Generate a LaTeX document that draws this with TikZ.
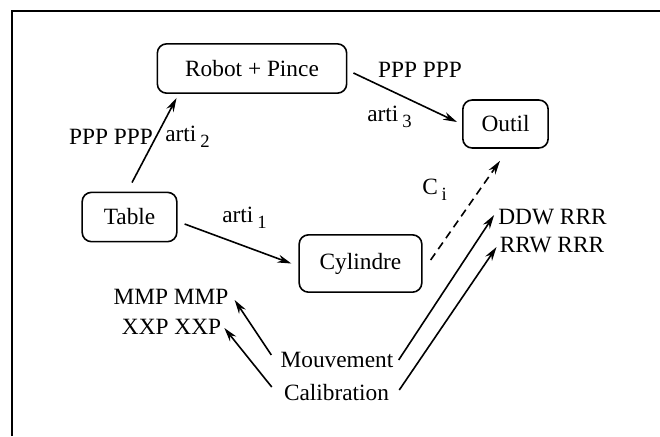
\documentclass[tikz,border=0pt]{standalone}
\usepackage{fontspec}
\setmainfont{Liberation Serif}
\usetikzlibrary{arrows.meta}
\newcommand{\subidx}[2]{#1\,\raisebox{-0.6ex}{\fontsize{14}{14}\selectfont #2}}

\begin{document}
\begin{tikzpicture}[x=0.75pt,y=-0.75pt,>={Stealth[length=10.5pt,width=6pt]},
    font=\fontsize{17.5}{20}\selectfont,
    box/.style={draw,line width=1.2pt,rounded corners=7pt,minimum height=37pt,inner sep=2pt},
    txt/.style={inner sep=0pt},
    arr/.style={->,line width=1.2pt}]
    \useasboundingbox (0,0) rectangle (660,436);
    % frame (top and left only)
    \draw[line width=1.5pt] (12,436) -- (12,11) -- (660,11);
    % boxes
    \node[box,minimum width=142pt] (robot) at (252,68.5) {Robot + Pince};
    \node[box,minimum width=71pt] (table) at (129.5,217) {Table};
    \node[box,minimum width=92pt,minimum height=43pt] (cyl) at (360.5,263.5) {Cylindre};
    \node[box,minimum width=64pt,minimum height=36pt] (outil) at (505.5,124) {Outil};
    % free labels
    \node[txt] (mmp) at (171,297) {MMP MMP};
    \node[txt] (xxp) at (171.5,327) {XXP XXP};
    \node[txt] (mouv) at (337,360) {Mouvement};
    \node[txt] (calib) at (336.5,393) {Calibration};
    \node[txt] (ddw) at (552.5,217) {DDW RRR};
    \node[txt] (rrw) at (552,245) {RRW RRR};
    % arrows between boxes
    \draw[arr] ([shift={(2.5,-9)}]table.north) -- ([shift={(20,4)}]robot.south west);
    \draw[arr] ([shift={(7,7)}]table.east) -- ([shift={(-7,0)}]cyl.west);
    \draw[arr] ([shift={(6,4.5)}]robot.east) -- ([shift={(-5,-2)}]outil.west);
    \draw[arr,dashed,dash pattern=on 6pt off 4pt] ([shift={(8,-3.5)}]cyl.east) -- ([shift={(-5.5,12)}]outil.south);
    % arrow labels
    \node[txt] (l2a) at (111,137) {PPP PPP};
    \node[txt,anchor=west] (l2b) at (165,137) {\subidx{arti}{2}};
    \node[txt,anchor=west] (l1) at (222,218) {\subidx{arti}{1}};
    \node[txt] (l3a) at (420,70) {PPP PPP};
    \node[txt,anchor=west] (l3b) at (367,117) {\subidx{arti}{3}};
    \node[txt,anchor=west] (lc) at (422,190) {\subidx{C}{i}};
    % Mouvement / Calibration
    \draw[arr] ([shift={(-9,-5)}]mouv.west) -- ([shift={(6,3)}]mmp.east);
    \draw[arr] ([shift={(-12,-6)}]calib.west) -- ([shift={(3,1)}]xxp.east);
    \draw[arr] ([shift={(5,0)}]mouv.east) -- ([shift={(-4,-2)}]ddw.west);
    \draw[arr] ([shift={(10,-3)}]calib.east) -- ([shift={(-3,2)}]rrw.west);
\end{tikzpicture}
\end{document}
